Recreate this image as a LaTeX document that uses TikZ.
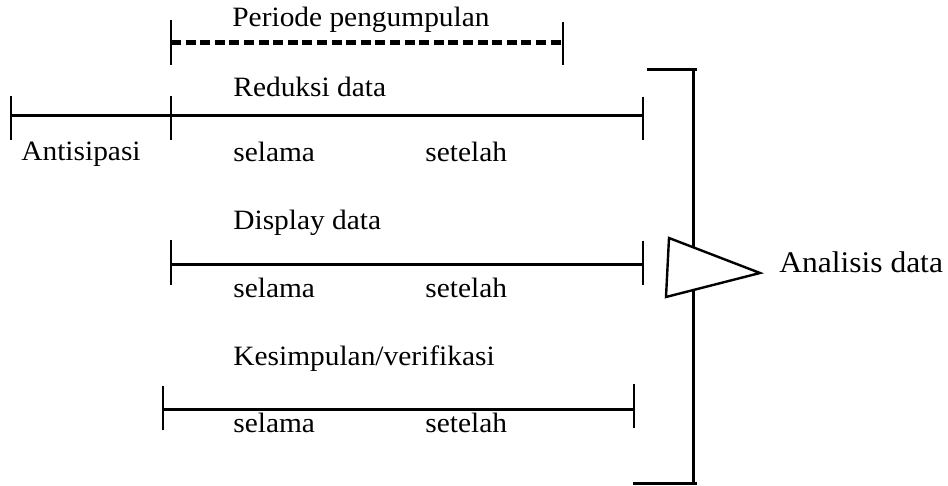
\documentclass[tikz,border=0pt]{standalone}
\usepackage{fontspec}
\setmainfont{Liberation Serif}[FakeStretch=1.05]
\usetikzlibrary{positioning}
\tikzset{
  tline/.style={line width=1.5pt},
  dotline/.style={line width=2.5pt, dash pattern=on 5pt off 2.3pt},
  tick/.style={line width=1.2pt},
  txt/.style={anchor=base west, inner sep=0pt, font=\fontsize{14}{17}\selectfont},
}

\begin{document}
\begin{tikzpicture}[x=0.5pt,y=0.5pt,yscale=-1,xscale=1]
        \useasboundingbox (0,0) rectangle (948,486);

        %Periode pengumpulan
        \coordinate (pp-l) at (171,43);
        \coordinate (pp-r) at (563,43);
        \draw [dotline] (pp-l) -- (pp-r);
        \draw [tick] (pp-l) ++(0,-23) -- ++(0,45);
        \draw [tick] (pp-r) ++(0,-21) -- ++(0,43);

        %Reduksi data
        \coordinate (rd-a) at (11,116);
        \coordinate (rd-b) at (171,116);
        \coordinate (rd-c) at (643,116);
        \draw [tline] (rd-a) -- (rd-b) -- (rd-c);
        \draw [tick] (rd-a) ++(0,-20) -- ++(0,44);
        \draw [tick] (rd-b) ++(0,-20) -- ++(0,44);
        \draw [tick] (rd-c) ++(0,-19) -- ++(0,43);

        %Display data
        \coordinate (dd-l) at (171,265);
        \coordinate (dd-r) at (643,265);
        \draw [tline] (dd-l) -- (dd-r);
        \draw [tick] (dd-l) ++(0,-25) -- ++(0,45);
        \draw [tick] (dd-r) ++(0,-24) -- ++(0,44);

        %Kesimpulan/verifikasi
        \coordinate (kv-l) at (163,409);
        \coordinate (kv-r) at (634,409);
        \draw [tline] (kv-l) -- (kv-r);
        \draw [tick] (kv-l) ++(0,-23) -- ++(0,44);
        \draw [tick] (kv-r) ++(0,-25) -- ++(0,44);

        %Bracket
        \coordinate (br-tl) at (647,70);
        \coordinate (br-tr) at (697,70);
        \coordinate (br-t) at (693,70);
        \coordinate (br-b) at (693,483);
        \coordinate (br-bl) at (633,483);
        \coordinate (br-br) at (697,483);
        \draw [tline] (br-tl) -- (br-tr);
        \draw [tline] (br-t) -- (br-b);
        \draw [tline] (br-bl) -- (br-br);

        %Triangle
        \coordinate (tri-a) at (669,238);
        \coordinate (tri-b) at (760,273);
        \coordinate (tri-c) at (666,297);
        \draw [tick, fill=white] (tri-a) -- (tri-b) -- (tri-c) -- cycle;

        % Text Node
        \node [txt] (pp-t) at (232,27) {Periode pengumpulan};
        % Text Node
        \node [txt] (rd-t) at (233,97) {Reduksi data};
        % Text Node
        \node [txt] (ant-t) at (21,161) {Antisipasi};
        % Text Node
        \node [txt] (rd-s1) at (233,162) {selama};
        % Text Node
        \node [txt] (rd-s2) at (425,162) {setelah};
        % Text Node
        \node [txt] (dd-t) at (233,230) {Display data};
        % Text Node
        \node [txt] (dd-s1) at (233,298) {selama};
        % Text Node
        \node [txt] (dd-s2) at (425,298) {setelah};
        % Text Node
        \node [txt] (kv-t) at (233,365) {Kesimpulan/verifikasi};
        % Text Node
        \node [txt] (kv-s1) at (233,432) {selama};
        % Text Node
        \node [txt] (kv-s2) at (425,432) {setelah};
        % Text Node
        \node [txt, font=\fontsize{15}{18}\selectfont] (ad-t) at (779,273) {Analisis data};

    \end{tikzpicture}
\end{document}
